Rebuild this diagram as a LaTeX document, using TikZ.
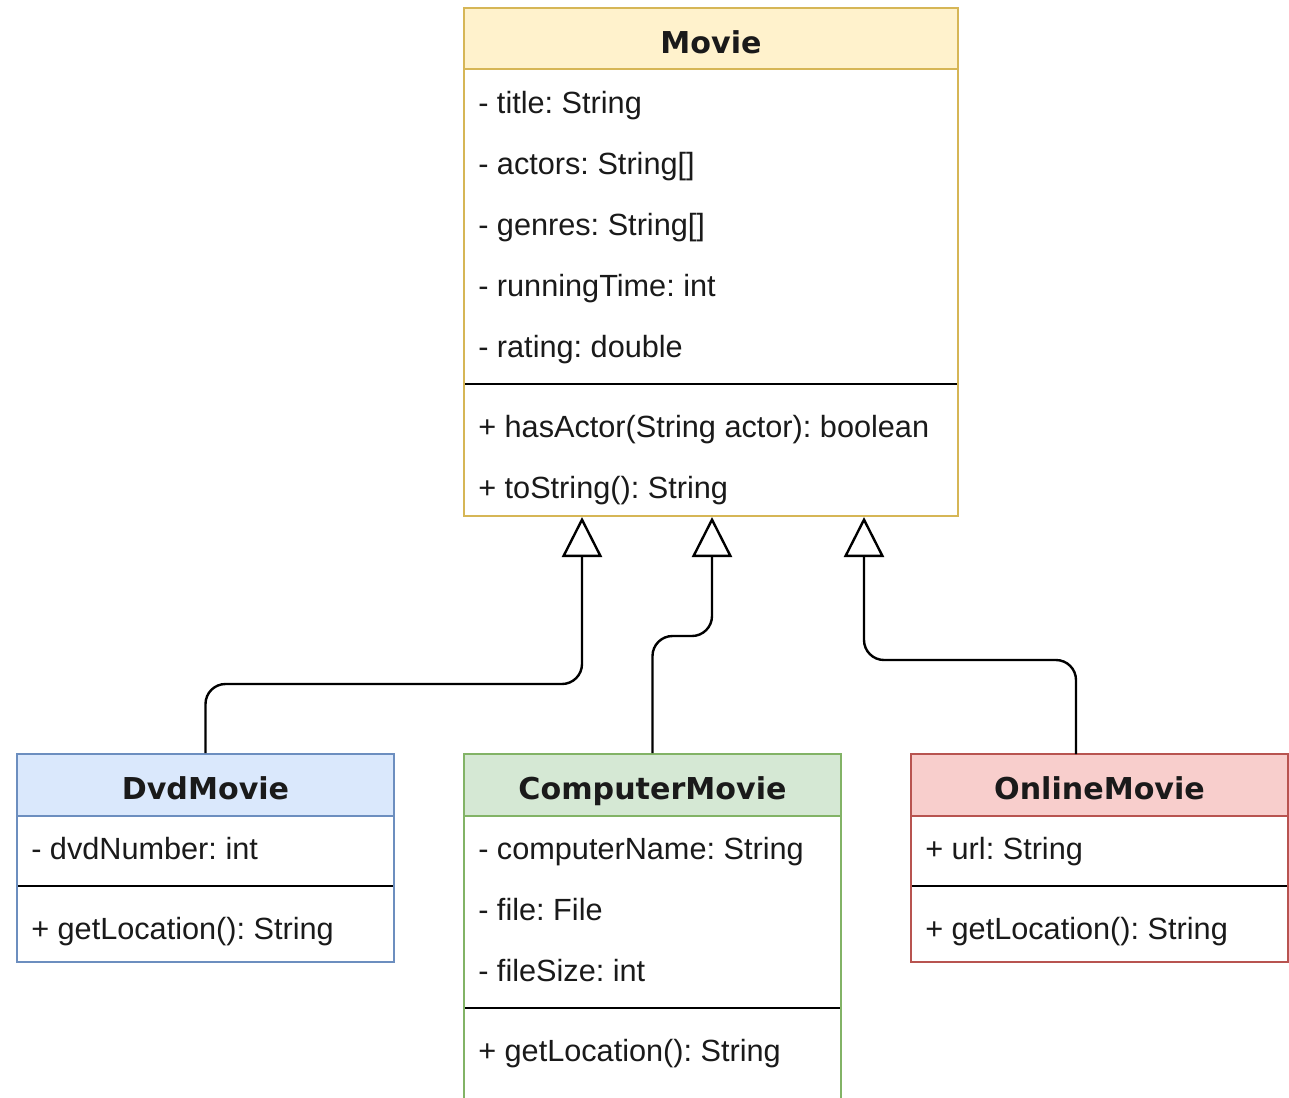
\documentclass[tikz,border=0pt]{standalone}
\usepackage{fontspec}
\setmainfont{Liberation Sans}
\newfontfamily\hdrfont{DejaVu Sans}
\usetikzlibrary{arrows.meta,calc,fit}
\definecolor{movieFill}{HTML}{FFF2CC}\definecolor{movieLine}{HTML}{D6B656}
\definecolor{dvdFill}{HTML}{DAE8FC}\definecolor{dvdLine}{HTML}{6C8EBF}
\definecolor{compFill}{HTML}{D5E8D4}\definecolor{compLine}{HTML}{82B366}
\definecolor{onlFill}{HTML}{F8CECC}\definecolor{onlLine}{HTML}{B85450}
\definecolor{txt}{HTML}{1A1A1A}
\frenchspacing
\tikzset{
  hdrtext/.style={anchor=base, inner sep=0pt, font=\hdrfont\bfseries\fontsize{22.6}{26}\selectfont, text=txt},
  rowtext/.style={anchor=base west, inner sep=0pt, font=\fontsize{23}{27}\selectfont, text=txt},
  sepline/.style={line width=1.5pt, black},
  inh/.style={line width=1.8pt, black, rounded corners=15pt, -{Triangle[open, length=30pt, width=30pt, fill=white]}}
}
\begin{document}
\frenchspacing
\begin{tikzpicture}[x=0.75pt,y=-0.75pt]
\useasboundingbox (0,0) rectangle (1289,1097);
\clip (0,0) rectangle (1289,1097);
\fill[white] (0,0) rectangle (1289,1097);
% Movie
\fill[movieFill] (464,8) rectangle (958,69);
\draw[movieLine, line width=1.5pt] (464,69) -- (958,69);
\draw[sepline] (464,384) -- (958,384);
\node[draw=movieLine, line width=1.5pt, inner sep=0pt, fit={(464,8)(958,516)}] (movie) {};
\node[hdrtext] (movieT) at (711,53) {Movie};
\node[rowtext] (m1) at (478,113) {- title: String};
\node[rowtext] (m2) at (478,174) {- actors: String[]};
\node[rowtext] (m3) at (478,235) {- genres: String[]};
\node[rowtext] (m4) at (478,296) {- runningTime: int};
\node[rowtext] (m5) at (478,357) {- rating: double};
\node[rowtext] (m6) at (478,437) {+ hasActor(String actor): boolean};
\node[rowtext] (m7) at (478,498) {+ toString(): String};
% DvdMovie
\fill[dvdFill] (17,754) rectangle (394,816);
\draw[dvdLine, line width=1.5pt] (17,816) -- (394,816);
\draw[sepline] (17,886) -- (394,886);
\node[draw=dvdLine, line width=1.5pt, inner sep=0pt, fit={(17,754)(394,962)}] (dvd) {};
\node[hdrtext] (dvdT) at (205.5,799) {DvdMovie};
\node[rowtext] (d1) at (31,859) {- dvdNumber: int};
\node[rowtext] (d2) at (31,939) {+ getLocation(): String};
% ComputerMovie
\fill[compFill] (464,754) rectangle (841,816);
\draw[compLine, line width=1.5pt] (464,816) -- (841,816);
\draw[sepline] (464,1008) -- (841,1008);
\node[draw=compLine, line width=1.5pt, inner sep=0pt, fit={(464,754)(841,1130)}] (comp) {};
\node[hdrtext] (compT) at (652.5,799) {ComputerMovie};
\node[rowtext] (c1) at (478,859) {- computerName: String};
\node[rowtext] (c2) at (478,920) {- file: File};
\node[rowtext] (c3) at (478,981) {- fileSize: int};
\node[rowtext] (c4) at (478,1061) {+ getLocation(): String};
% OnlineMovie
\fill[onlFill] (911,754) rectangle (1288,816);
\draw[onlLine, line width=1.5pt] (911,816) -- (1288,816);
\draw[sepline] (911,886) -- (1288,886);
\node[draw=onlLine, line width=1.5pt, inner sep=0pt, fit={(911,754)(1288,962)}] (onl) {};
\node[hdrtext] (onlT) at (1099.5,799) {OnlineMovie};
\node[rowtext] (o1) at (925,859) {+ url: String};
\node[rowtext] (o2) at (925,939) {+ getLocation(): String};
% connectors
\coordinate (p1) at (582,517);
\coordinate (p2) at (712,517);
\coordinate (p3) at (864,517);
\coordinate (q3) at (1076,754);
\draw[inh] (dvd.north) |- ($(p1)+(0,167)$) -- (p1);
\draw[inh] (comp.north) |- ($(p2)+(0,119)$) -- (p2);
\draw[inh] (q3) |- ($(p3)+(0,143)$) -- (p3);
\end{tikzpicture}
\end{document}
